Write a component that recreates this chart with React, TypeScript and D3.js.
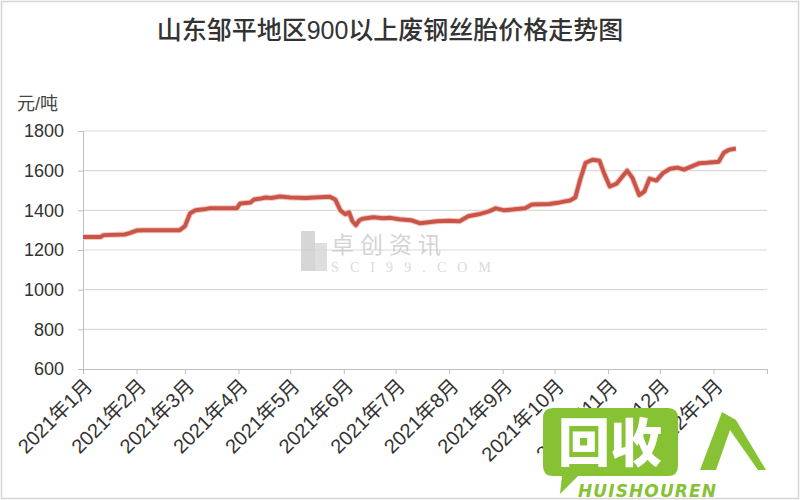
import React, { useRef, useEffect } from "react";
import * as d3 from "d3";

type Point = [Date, number];

const title = "山东邹平地区900以上废钢丝胎价格走势图";
const unitLabel = "元/吨";

const yTicks = [600, 800, 1000, 1200, 1400, 1600, 1800];

// month ticks, last one (2022-02) has no label
const monthTicks = [
  "2021-01-01", "2021-02-01", "2021-03-01", "2021-04-01", "2021-05-01", "2021-06-01", "2021-07-01",
  "2021-08-01", "2021-09-01", "2021-10-01", "2021-11-01", "2021-12-01", "2022-01-01", "2022-02-01",
];
const monthLabels = [
  "2021年1月", "2021年2月", "2021年3月", "2021年4月", "2021年5月", "2021年6月", "2021年7月",
  "2021年8月", "2021年9月", "2021年10月", "2021年11月", "2021年12月", "2022年1月", "",
];

const priceDates = [
  "2021-01-01", "2021-01-11", "2021-01-13", "2021-01-25", "2021-01-28", "2021-02-01", "2021-02-05",
  "2021-02-26", "2021-03-01", "2021-03-04", "2021-03-07", "2021-03-12", "2021-03-15", "2021-03-31",
  "2021-04-02", "2021-04-08", "2021-04-10", "2021-04-14", "2021-04-17", "2021-04-20", "2021-04-25",
  "2021-05-01", "2021-05-10", "2021-05-15", "2021-05-24", "2021-05-27", "2021-05-30", "2021-06-02",
  "2021-06-04", "2021-06-06", "2021-06-08", "2021-06-10", "2021-06-12", "2021-06-18", "2021-06-24",
  "2021-06-28", "2021-07-03", "2021-07-10", "2021-07-15", "2021-07-20", "2021-07-25", "2021-08-01",
  "2021-08-07", "2021-08-12", "2021-08-18", "2021-08-24", "2021-08-28", "2021-09-02", "2021-09-08",
  "2021-09-14", "2021-09-18", "2021-09-28", "2021-10-04", "2021-10-10", "2021-10-13", "2021-10-16",
  "2021-10-19", "2021-10-23", "2021-10-27", "2021-10-30", "2021-11-02", "2021-11-06", "2021-11-12",
  "2021-11-15", "2021-11-19", "2021-11-22", "2021-11-25", "2021-11-29", "2021-12-03", "2021-12-07",
  "2021-12-11", "2021-12-15", "2021-12-19", "2021-12-24", "2021-12-28", "2022-01-04", "2022-01-07",
  "2022-01-10", "2022-01-14",
];
const priceValues = [
  1265, 1265, 1275, 1278, 1285, 1298, 1300,
  1300, 1320, 1385, 1400, 1405, 1410, 1410,
  1435, 1440, 1455, 1460, 1465, 1462, 1470,
  1465, 1462, 1465, 1468, 1455, 1400, 1380,
  1390, 1345, 1325, 1350, 1358, 1365, 1360,
  1362, 1355, 1350, 1335, 1340, 1345, 1348,
  1345, 1370, 1380, 1395, 1410, 1400, 1405,
  1410, 1430, 1432, 1440, 1450, 1465, 1560,
  1640, 1655, 1650, 1580, 1520, 1535, 1600,
  1565, 1477, 1495, 1560, 1550, 1590, 1610,
  1615, 1605, 1620, 1638, 1640, 1645, 1690,
  1705, 1712,
];

const parse = d3.timeParse("%Y-%m-%d");
const cnFont = "'Liberation Sans', 'Noto Sans CJK SC', sans-serif";

const App: React.FC = () => {
  const svgRef = useRef<SVGSVGElement>(null);

  useEffect(() => {
    document.body.style.margin = "0";

    const svg = d3.select(svgRef.current);
    svg.selectAll("*").remove();

    const x = d3.scaleTime()
      .domain([parse("2021-01-01") as Date, parse("2022-02-01") as Date])
      .range([83, 767]);
    const y = d3.scaleLinear().domain([600, 1800]).range([369, 131]);

    // outer border
    svg.append("rect")
      .attr("x", 1.5).attr("y", 1.5).attr("width", 797).attr("height", 497)
      .attr("fill", "#fff").attr("stroke", "#d4d4d4").attr("stroke-width", 1.5);

    svg.append("text")
      .attr("x", 390).attr("y", 39)
      .attr("text-anchor", "middle")
      .style("font-family", cnFont)
      .style("font-size", "25px")
      .style("font-weight", "500")
      .style("fill", "#333")
      .text(title);

    svg.append("text")
      .attr("x", 17).attr("y", 110)
      .style("font-family", cnFont)
      .style("font-size", "18px")
      .style("fill", "#444")
      .text(unitLabel);

    // grid lines
    svg.append("g")
      .selectAll("line")
      .data(yTicks.slice(1))
      .enter()
      .append("line")
      .attr("x1", 83).attr("x2", 767)
      .attr("y1", d => y(d)).attr("y2", d => y(d))
      .attr("stroke", "#d9d9d9").attr("stroke-width", 1.2);

    // watermark
    const wm = svg.append("g").attr("opacity", 0.75);
    wm.append("rect").attr("x", 301).attr("y", 231).attr("width", 14).attr("height", 40).attr("fill", "#c9c9c9");
    wm.append("rect").attr("x", 315).attr("y", 243).attr("width", 12).attr("height", 28).attr("fill", "#d4d4d4");
    wm.append("text")
      .attr("x", 331).attr("y", 253)
      .attr("textLength", 110)
      .style("font-family", "'Noto Sans CJK SC', sans-serif")
      .style("font-size", "23px")
      .style("fill", "#c6c6c6")
      .text("卓创资讯");
    wm.append("text")
      .attr("x", 331).attr("y", 272)
      .attr("textLength", 160)
      .style("font-family", "'Liberation Serif', serif")
      .style("font-size", "14px")
      .style("fill", "#cfcfcf")
      .text("SCI99.COM");

    // y axis
    const yAxis = svg.append("g")
      .attr("transform", "translate(83,0)")
      .call(d3.axisLeft(y).tickValues(yTicks).tickFormat(d3.format("d")).tickSize(5).tickPadding(14));
    yAxis.select(".domain").attr("stroke", "#bfbfbf");
    yAxis.selectAll(".tick line").attr("stroke", "#bfbfbf");
    yAxis.selectAll(".tick text")
      .style("font-family", cnFont)
      .style("font-size", "18px")
      .style("fill", "#333");

    // x axis
    const tickDates = monthTicks.map(d => parse(d) as Date);
    const xAxis = svg.append("g")
      .attr("transform", "translate(0,369)")
      .call(d3.axisBottom(x).tickValues(tickDates).tickSize(5).tickSizeOuter(0).tickFormat((_, i) => monthLabels[i]));
    xAxis.select(".domain").attr("stroke", "#bfbfbf");
    xAxis.selectAll(".tick line").attr("stroke", "#bfbfbf");
    xAxis.selectAll<SVGTextElement, Date>(".tick text")
      .attr("text-anchor", "end")
      .attr("transform", "translate(6,14) rotate(-45)")
      .attr("dy", "0.3em")
      .attr("y", 0)
      .attr("x", 0)
      .style("font-family", cnFont)
      .style("font-size", "20px")
      .style("fill", "#333");

    const data: Point[] = priceDates.map((d, i) => [parse(d) as Date, priceValues[i]]);
    const line = d3.line<Point>()
      .x(d => x(d[0]))
      .y(d => y(d[1]));

    svg.append("path")
      .datum(data)
      .attr("fill", "none")
      .attr("stroke", "#f3c9bd")
      .attr("stroke-width", 6)
      .attr("stroke-linejoin", "round")
      .attr("d", line);
    svg.append("path")
      .datum(data)
      .attr("fill", "none")
      .attr("stroke", "#c9554a")
      .attr("stroke-width", 4)
      .attr("stroke-linejoin", "round")
      .attr("d", line);

    // site logo bottom right
    const green = "#86c233";
    const logo = svg.append("g");
    logo.append("path")
      .attr("d", "M553,408 H668 Q678,408 678,418 V466 Q678,476 668,476 H578 L560,494 L562,476 H553 Q543,476 543,466 V418 Q543,408 553,408 Z")
      .attr("fill", green);
    logo.append("text")
      .attr("x", 610).attr("y", 462)
      .attr("text-anchor", "middle")
      .style("font-family", "'Noto Sans CJK SC', sans-serif")
      .style("font-weight", "900")
      .style("font-size", "52px")
      .style("fill", "#fff")
      .text("回收");
    logo.append("path")
      .attr("d", "M722,412 L700,470 L716,470 L730,430 L758,470 L766,470 L736,420 Z")
      .attr("fill", green);
    logo.append("text")
      .attr("x", 578).attr("y", 497)
      .attr("textLength", 138)
      .style("font-family", "'DejaVu Sans', sans-serif")
      .style("font-weight", "bold")
      .style("font-style", "italic")
      .style("font-size", "17px")
      .style("fill", green)
      .text("HUISHOUREN");
  }, []);

  return <svg ref={svgRef} width={800} height={500} style={{ display: "block" }}></svg>;
};

export default App;
